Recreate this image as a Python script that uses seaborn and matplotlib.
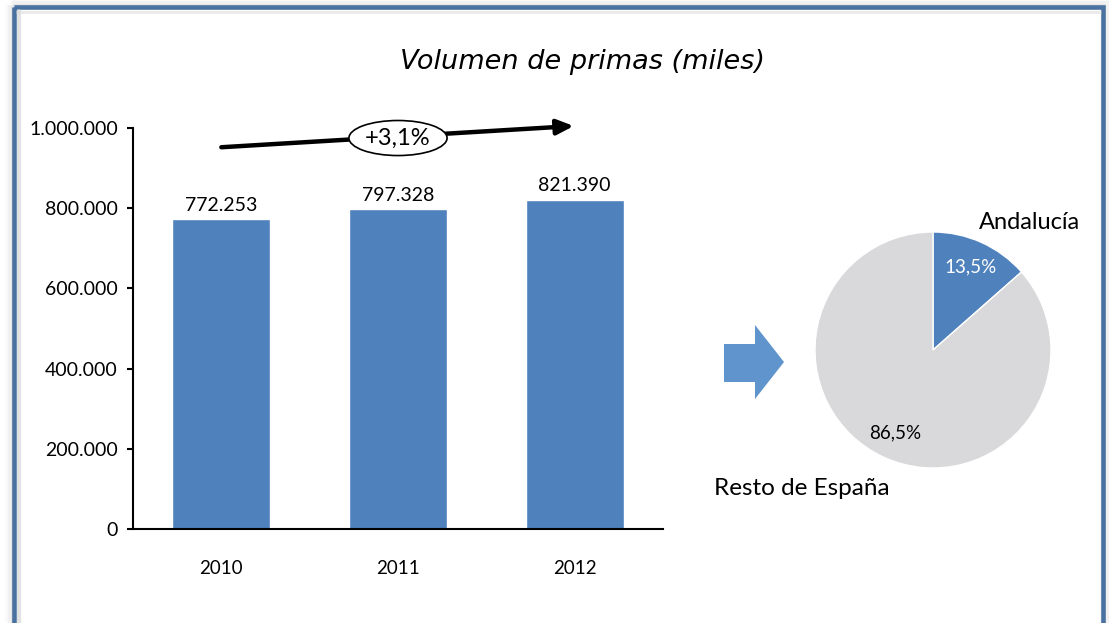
import numpy as np
import pandas as pd
import seaborn as sns
import matplotlib.pyplot as plt
from matplotlib.patches import Rectangle, Polygon

# ---- data ----
years = ['2010', '2011', '2012']
primas = [772253, 797328, 821390]
growth_label = '+3,1%'

regions = ['Andalucía', 'Resto de España']
shares = [13.5, 86.5]

bar_color = '#4F81BD'
pie_colors = ['#4F81BD', '#D9D9DB']

sns.set_style('white')
plt.rcParams['font.family'] = ['Lato', 'DejaVu Sans']
plt.rcParams['text.color'] = 'black'
plt.rcParams['xtick.color'] = 'black'
plt.rcParams['ytick.color'] = 'black'

W, H = 1109, 623
fig = plt.figure(figsize=(W / 100, H / 100), dpi=100)
fig.patch.set_facecolor('white')

# background layer in pixel coords: frame + block arrow
bg = fig.add_axes([0, 0, 1, 1], zorder=0)
bg.set_xlim(0, W)
bg.set_ylim(H, 0)
bg.axis('off')
# soft shadow round the frame
for off, a in [(3, 0.10), (6, 0.07), (9, 0.04)]:
    bg.add_patch(Rectangle((14 - off / 3, 7 - off / 3), 1088.5 + off / 1.5, 640,
                           fill=False, ec='#808080', lw=off, alpha=a))
bg.add_patch(Rectangle((14, 7), 1088.5, 640, fill=False, ec='#4A72A0', lw=3.3))
# inner shadow
bg.plot([19, 19], [11, 623], color='#cfcfcf', lw=3, alpha=0.6)
bg.plot([17, 1100], [12, 12], color='#dcdcdc', lw=2, alpha=0.6)

# block arrow between charts
bg.add_patch(Polygon([(724, 344), (755, 344), (755, 325), (784, 362),
                      (755, 399), (755, 382), (724, 382)],
                     closed=True, fc='#5F95CC', ec='none'))

# title
fig.text(582 / W, 1 - 62 / H, 'Volumen de primas (miles)', ha='center', va='center',
         fontsize=19.5, style='italic', family=['DejaVu Sans'])

# ---- bar chart ----
ax = fig.add_axes([133 / W, (H - 529) / H, 530 / W, 401 / H], zorder=2)
ax.patch.set_alpha(0)
df = pd.DataFrame({'year': years, 'primas': primas})
sns.barplot(data=df, x='year', y='primas', color=bar_color, saturation=1,
            width=0.555, ax=ax)
ax.set_xlim(-0.5, 2.5)
ax.set_ylim(0, 1000000)
ax.set_yticks(np.arange(0, 1000001, 200000))
ax.set_yticklabels([f'{int(v):,}'.replace(',', '.') for v in ax.get_yticks()])
ax.set_xlabel('')
ax.set_ylabel('')
sns.despine(ax=ax)
for s in ['left', 'bottom']:
    ax.spines[s].set_linewidth(1.5)
    ax.spines[s].set_color('black')
ax.tick_params(axis='y', length=4, width=1.5, labelsize=14, pad=7, left=True)
ax.tick_params(axis='x', length=0, labelsize=13.5, pad=22)

for i, v in enumerate(primas):
    ax.text(i, v + 14000, f'{v:,}'.replace(',', '.'), ha='center', va='bottom', fontsize=14)

# trend arrow with growth label
ax.annotate('', xy=(1.995, 1005000), xytext=(0, 952000), annotation_clip=False,
            arrowprops=dict(arrowstyle='-|>,head_length=1.0,head_width=0.45',
                            color='black', lw=3.2, shrinkA=0, shrinkB=0))
ax.text(1.0, 975000, growth_label, ha='center', va='center', fontsize=17, clip_on=False,
        bbox=dict(boxstyle='ellipse,pad=0.08', fc='white', ec='black', lw=1.2))

# ---- pie ----
pax = fig.add_axes([(933 - 147.5) / W, (H - 350 - 147.5) / H, 295 / W, 295 / H], zorder=2)
wedges, texts, autotexts = pax.pie(shares, colors=pie_colors, startangle=90, counterclock=False,
                                   autopct=lambda p: f'{p:.1f}%'.replace('.', ','),
                                   pctdistance=0.77, textprops=dict(fontsize=13.5))
autotexts[0].set_color('white')
pax.set_xlim(-1.25, 1.25)
pax.set_ylim(-1.25, 1.25)
pax.text(0.82, 1.08, regions[0], ha='center', va='center', fontsize=17, clip_on=False)
pax.text(-1.11, -1.17, regions[1], ha='center', va='center', fontsize=17.5, clip_on=False)

fig.savefig('out.png', dpi=100)
